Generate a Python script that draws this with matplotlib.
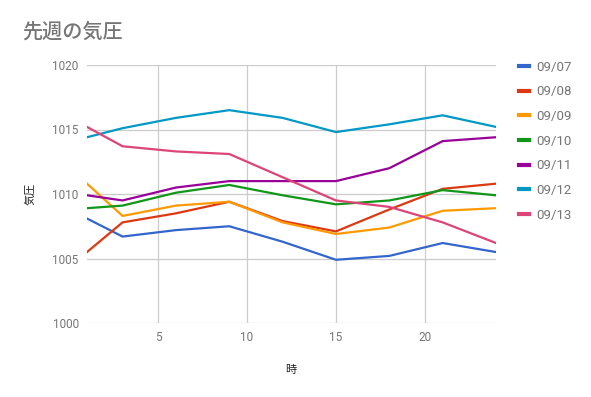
import matplotlib
matplotlib.use('Agg')
import matplotlib.pyplot as plt
from matplotlib.lines import Line2D

plt.rcParams['font.family'] = ['Roboto', 'Noto Sans CJK JP', 'DejaVu Sans']

hours = [1, 3, 6, 9, 12, 15, 18, 21, 24]
days = ['09/07', '09/08', '09/09', '09/10', '09/11', '09/12', '09/13']
p_0907 = [1008.1, 1006.7, 1007.2, 1007.5, 1006.3, 1004.9, 1005.2, 1006.2, 1005.5]
p_0908 = [1005.5, 1007.8, 1008.5, 1009.4, 1007.9, 1007.1, 1008.8, 1010.4, 1010.8]
p_0909 = [1010.8, 1008.3, 1009.1, 1009.4, 1007.8, 1006.9, 1007.4, 1008.7, 1008.9]
p_0910 = [1008.9, 1009.1, 1010.1, 1010.7, 1009.9, 1009.2, 1009.5, 1010.3, 1009.9]
p_0911 = [1009.9, 1009.5, 1010.5, 1011.0, 1011.0, 1011.0, 1012.0, 1014.1, 1014.4]
p_0912 = [1014.4, 1015.1, 1015.9, 1016.5, 1015.9, 1014.8, 1015.4, 1016.1, 1015.2]
p_0913 = [1015.2, 1013.7, 1013.3, 1013.1, 1011.3, 1009.5, 1009.0, 1007.8, 1006.2]
series = [p_0907, p_0908, p_0909, p_0910, p_0911, p_0912, p_0913]

colors = ['#3366cc', '#dc3912', '#ff9900', '#109618', '#990099', '#0099c6', '#dd4477']

fig = plt.figure(figsize=(5.91, 3.97), dpi=100)
ax = fig.add_axes([87 / 591, 1 - 323 / 397, (496 - 87) / 591, (323 - 65) / 397])

for vals, day, c in zip(series, days, colors):
    ax.plot(hours, vals, color=c, lw=1.6, label=day, solid_joinstyle='round')

ax.set_xlim(1, 24)
ax.set_ylim(1000, 1020)
ax.set_xticks([5, 10, 15, 20])
ax.set_yticks([1000, 1005, 1010, 1015, 1020])
ax.grid(True, color='#cccccc', lw=0.9)
ax.set_axisbelow(True)
for s in ax.spines.values():
    s.set_visible(False)
ax.tick_params(length=0, labelsize=8.5, colors='#757575', pad=6)

fig.text(22 / 591, 1 - 32 / 397, '先週の気圧', fontsize=14.5, color='#757575',
         va='center', ha='left', fontweight='medium')
fig.text(291 / 591, 1 - 370 / 397, '時', fontsize=8, color='#222222', ha='center', va='center')
fig.text(30 / 591, 1 - 194 / 397, '気圧', fontsize=8, color='#222222', ha='center', va='center',
         rotation=90)

handles = [Line2D([], [], color=c, lw=3) for c in colors]
ax.legend(handles, days, loc='upper left', bbox_to_anchor=(507 / 591, 1 - 49 / 397),
          bbox_transform=fig.transFigure, frameon=False, fontsize=9.5, labelcolor='#757575',
          handlelength=0.75, handletextpad=0.55, labelspacing=0.88)

fig.savefig('out.png', dpi=100)
